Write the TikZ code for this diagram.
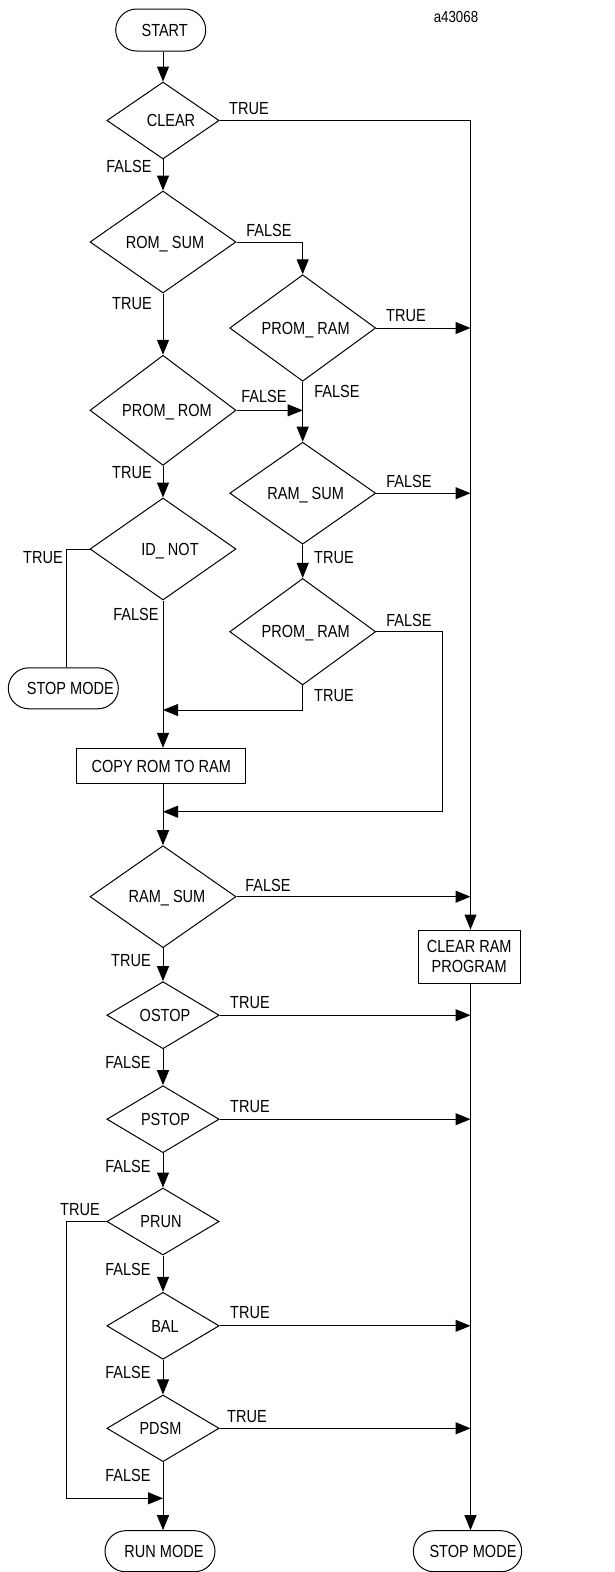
\documentclass[tikz,border=0pt]{standalone}
\usepackage{fontspec}
\setmainfont{Liberation Sans}[FakeStretch=0.83]
\usetikzlibrary{shapes.geometric,arrows.meta}
\begin{document}
\begin{tikzpicture}[x=1pt,y=-1pt, line width=1pt,
  txt/.style={font=\fontsize{17.5}{20}\selectfont, inner sep=0pt, text height=12.5pt, text depth=0pt},
  dec/.style={draw, diamond, txt, minimum width=146pt, minimum height=102pt},
  sdec/.style={dec, minimum width=112.3pt, minimum height=67pt},
  term/.style={draw, rectangle, rounded corners=20.5pt, txt, minimum width=110pt, minimum height=41pt},
  proc/.style={draw, rectangle, txt, minimum width=169pt, minimum height=35pt},
  lbl/.style={txt},
  arr/.style={-{Triangle[length=15pt,width=12pt]}}]
\useasboundingbox (0,0) rectangle (615,1572);

% nodes
\node[term, minimum width=90pt, minimum height=42pt, rounded corners=21pt] (start) at (160.7,30) {\hspace*{8pt}START};
\node[txt, font=\fontsize{16}{18}\selectfont] (id) at (456,16) {a43068};
\node[sdec] (clear) at (163,120.5) {\hspace*{16pt}CLEAR};
\node[dec] (romsum) at (163,242) {\hspace*{4pt}ROM\_ SUM};
\node[dec] (promram1) at (302.7,328) {\hspace*{6pt}PROM\_ RAM};
\node[dec] (promrom) at (163,410.3) {\hspace*{8pt}PROM\_ ROM};
\node[dec] (ramsumr) at (302.7,493.2) {\hspace*{6pt}RAM\_ SUM};
\node[dec] (idnot) at (163,549) {\hspace*{14pt}ID\_ NOT};
\node[dec] (promram2) at (302.7,631.7) {\hspace*{6pt}PROM\_ RAM};
\node[term] (stopl) at (63.3,688.3) {\hspace*{14pt}STOP MODE};
\node[proc] (copy) at (161.2,765.8) {COPY ROM TO RAM};
\node[dec] (ramsum) at (163,896.7) {\hspace*{8pt}RAM\_ SUM};
\node[draw, rectangle, txt, align=center, text height=, text depth=, minimum width=101.7pt, minimum height=53.3pt] (clrram) at (469.2,956.7) {CLEAR RAM\\PROGRAM};
\node[sdec] (ostop) at (163,1015.2) {\hspace*{4pt}OSTOP};
\node[sdec] (pstop) at (163,1119.2) {\hspace*{5pt}PSTOP};
\node[sdec] (prun) at (163,1221.5) {\hspace*{-4pt}PRUN};
\node[sdec] (bal) at (163,1325.8) {\hspace*{4pt}BAL};
\node[sdec, minimum height=66.7pt] (pdsm) at (163,1428.3) {\hspace*{-5pt}PDSM};
\node[term] (runmode) at (160,1551.2) {\hspace*{8pt}RUN MODE};
\node[term, minimum width=108.3pt] (stopr) at (467.5,1551.2) {\hspace*{11pt}STOP MODE};

% labels
\node[lbl] (l1) at (249,108) {TRUE};
\node[lbl] (l2) at (129,166) {FALSE};
\node[lbl] (l3) at (269,230) {FALSE};
\node[lbl] (l4) at (132,303) {TRUE};
\node[lbl] (l5) at (406,315) {TRUE};
\node[lbl] (l6) at (264,396) {FALSE};
\node[lbl] (l7) at (337,391) {FALSE};
\node[lbl] (l8) at (409,481) {FALSE};
\node[lbl] (l9) at (334,557) {TRUE};
\node[lbl] (l10) at (132,472) {TRUE};
\node[lbl] (l11) at (43,557) {TRUE};
\node[lbl] (l12) at (136,614) {FALSE};
\node[lbl] (l13) at (409,620) {FALSE};
\node[lbl] (l14) at (334,695) {TRUE};
\node[lbl] (l15) at (268,885) {FALSE};
\node[lbl] (l16) at (131,960) {TRUE};
\node[lbl] (l17) at (250,1002) {TRUE};
\node[lbl] (l18) at (128,1062) {FALSE};
\node[lbl] (l19) at (250,1106.7) {TRUE};
\node[lbl] (l20) at (128,1166.7) {FALSE};
\node[lbl] (l21) at (80,1209) {TRUE};
\node[lbl] (l22) at (128,1269) {FALSE};
\node[lbl] (l23) at (250,1312.7) {TRUE};
\node[lbl] (l24) at (128,1372.7) {FALSE};
\node[lbl] (l25) at (247,1416) {TRUE};
\node[lbl] (l26) at (128,1475.7) {FALSE};

% coordinates
\coordinate (rv) at (470.5,120.5);
\coordinate (rr) at (442.7,631.7);
\coordinate (j1) at (163,710);
\coordinate (j2) at (163,811.7);
\coordinate (lt) at (66.7,549);
\coordinate (pl) at (66.7,1221.5);
\coordinate (j3) at (163,1498.3);

% main column
\draw[arr] (clear.north |- start.south) -- (clear.north);
\draw[arr] (clear.south) -- (romsum.north);
\draw[arr] (romsum.south) -- (promrom.north);
\draw[arr] (promrom.south) -- (idnot.north);
\draw[arr] (idnot.south) -- (idnot.south |- copy.north);
\draw[arr] (ramsum.north |- copy.south) -- (ramsum.north);
\draw[arr] (ramsum.south) -- (ostop.north);
\draw[arr] (ostop.south) -- (pstop.north);
\draw[arr] (pstop.south) -- (prun.north);
\draw[arr] (prun.south) -- (bal.north);
\draw[arr] (bal.south) -- (pdsm.north);
\draw[arr] (pdsm.south) -- (pdsm.south |- runmode.north);

% middle column
\draw[arr] (romsum.east) -| (promram1.north);
\draw[arr] (promrom.east) -- (promrom.east -| promram1.south);
\draw[arr] (promram1.south) -- (ramsumr.north);
\draw[arr] (ramsumr.south) -- (promram2.north);
\draw[arr] (promram2.south) |- (j1);
\draw[arr] (promram2.east) -- (rr) |- (j2);

% left branches
\draw (idnot.west) -- (lt) -- (lt |- stopl.north);
\draw[arr] (prun.west) -- (pl) |- (j3);

% right column
\draw (clear.east) -- (rv);
\draw[arr] (rv) -- (rv |- clrram.north);
\draw[arr] (promram1.east) -- (promram1.east -| rv);
\draw[arr] (ramsumr.east) -- (ramsumr.east -| rv);
\draw[arr] (ramsum.east) -- (ramsum.east -| rv);
\draw[arr] (rv |- clrram.south) -- (rv |- stopr.north);
\draw[arr] (ostop.east) -- (ostop.east -| rv);
\draw[arr] (pstop.east) -- (pstop.east -| rv);
\draw[arr] (bal.east) -- (bal.east -| rv);
\draw[arr] (pdsm.east) -- (pdsm.east -| rv);
\end{tikzpicture}
\end{document}
